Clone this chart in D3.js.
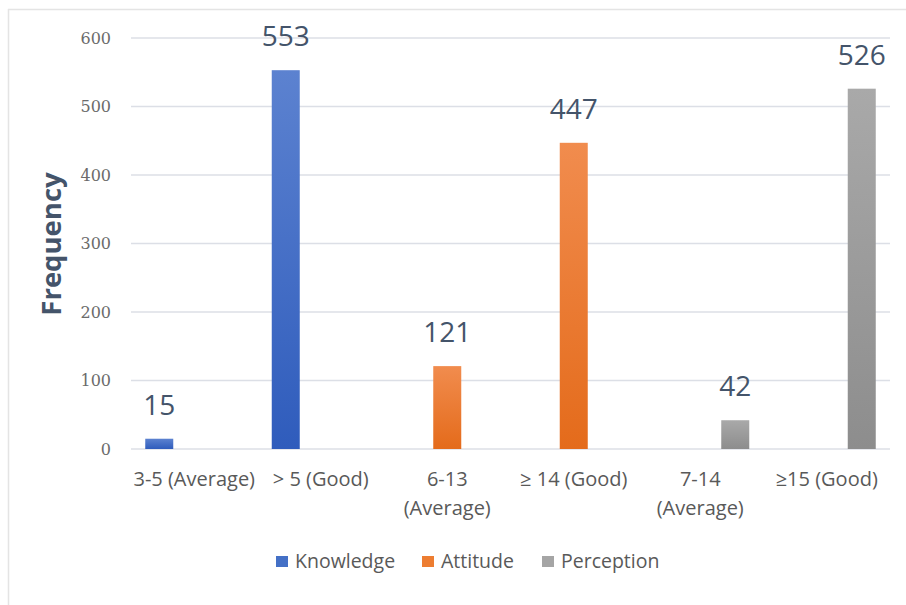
<!DOCTYPE html>
<html>
<head>
<meta charset="utf-8">
<script src="https://cdn.jsdelivr.net/npm/d3@7"></script>
<style>
  body { margin: 0; background: #fff; }
</style>
</head>
<body>
<div id="chart"></div>
<script>
const categories = ["3-5 (Average)", "> 5 (Good)", "6-13 (Average)", "≥ 14 (Good)", "7-14 (Average)", "≥15 (Good)"];
const categoryLines = [["3-5 (Average)"], ["> 5 (Good)"], ["6-13", "(Average)"], ["≥ 14 (Good)"], ["7-14", "(Average)"], ["≥15 (Good)"]];
const seriesNames = ["Knowledge", "Attitude", "Perception"];
const knowledge = [15, 553, null, null, null, null];
const attitude = [null, null, 121, 447, null, null];
const perception = [null, null, null, null, 42, 526];
const yTicks = [0, 100, 200, 300, 400, 500, 600];

const seriesValues = [knowledge, attitude, perception];
const colors = {
    Knowledge: ["#5c82d0", "#2f5cbc", "#4470c6"],
    Attitude: ["#f18c4e", "#e46b1b", "#ed7d31"],
    Perception: ["#a9a9a9", "#8d8d8d", "#a5a5a5"]
};

const W = 906, H = 605;
const plotLeft = 131, plotRight = 890, plotTop = 38, plotBottom = 449;

const svg = d3.select("#chart")
.append("svg")
.attr("width", W)
.attr("height", H);

// gradients
const defs = svg.append("defs");
seriesNames.forEach((s, i) => {
    const g = defs.append("linearGradient")
        .attr("id", "grad" + i)
        .attr("x1", 0).attr("y1", 0).attr("x2", 0).attr("y2", 1);
    g.append("stop").attr("offset", "0%").attr("stop-color", colors[s][0]);
    g.append("stop").attr("offset", "100%").attr("stop-color", colors[s][1]);
});

// frame (top and left only visible)
svg.append("line").attr("x1", 8).attr("x2", W).attr("y1", 9.5).attr("y2", 9.5)
    .attr("stroke", "#e4e4e4").attr("stroke-width", 1.5);
svg.append("line").attr("x1", 8.5).attr("x2", 8.5).attr("y1", 9).attr("y2", H)
    .attr("stroke", "#e4e4e4").attr("stroke-width", 1.5);

const yScale = d3.scaleLinear()
.domain([0, 600])
.range([plotBottom, plotTop]);

const x0 = d3.scaleBand()
.domain(categories)
.range([plotLeft, plotRight]);

const groupW = 98;
const x1 = d3.scaleBand()
.domain(seriesNames)
.range([0, groupW])
.paddingInner(0.2);

// gridlines
svg.selectAll(".grid")
    .data(yTicks)
    .join("line")
    .attr("class", "grid")
    .attr("x1", plotLeft)
    .attr("x2", plotRight)
    .attr("y1", d => yScale(d))
    .attr("y2", d => yScale(d))
    .attr("stroke", "#dcdfe6")
    .attr("stroke-width", 1.3);

// y axis labels
const yAxis = d3.axisLeft(yScale).tickValues(yTicks).tickSize(0).tickPadding(20);
const yg = svg.append("g").attr("transform", `translate(${plotLeft},0)`).call(yAxis);
yg.select(".domain").remove();
yg.selectAll("text")
    .attr("font-family", "'DejaVu Serif', 'Liberation Serif', serif")
    .attr("font-size", 16)
    .attr("fill", "#6b6b6b");

// y title
svg.append("text")
    .attr("transform", "translate(61,244) rotate(-90)")
    .attr("text-anchor", "middle")
    .attr("font-family", "'Open Sans', sans-serif")
    .attr("font-weight", "bold")
    .attr("font-size", 27.5)
    .attr("fill", "#44546a")
    .text("Frequency");

// bars
const bars = [];
categories.forEach((c, ci) => {
    seriesNames.forEach((s, si) => {
        const v = seriesValues[si][ci];
        if (v !== null) bars.push({ cat: c, series: s, si: si, value: v });
    });
});

const xBar = d => x0(d.cat) + (x0.bandwidth() - groupW) / 2 + x1(d.series);

svg.selectAll(".bar")
    .data(bars)
    .join("rect")
    .attr("class", "bar")
    .attr("x", d => xBar(d))
    .attr("width", x1.bandwidth())
    .attr("y", d => yScale(d.value))
    .attr("height", d => yScale(0) - yScale(d.value))
    .attr("fill", d => `url(#grad${d.si})`);

svg.selectAll(".val")
    .data(bars)
    .join("text")
    .attr("class", "val")
    .attr("x", d => xBar(d) + x1.bandwidth() / 2)
    .attr("y", d => yScale(d.value) - 24)
    .attr("text-anchor", "middle")
    .attr("font-family", "'Open Sans', sans-serif")
    .attr("font-size", 28)
    .attr("fill", "#44546a")
    .text(d => d.value);

// x labels
const xl = svg.selectAll(".xlab")
    .data(categories)
    .join("text")
    .attr("class", "xlab")
    .attr("x", d => x0(d) + x0.bandwidth() / 2)
    .attr("y", 486)
    .attr("text-anchor", "middle")
    .attr("font-family", "'Open Sans', sans-serif")
    .attr("font-size", 20)
    .attr("fill", "#595959");
xl.each(function(d, i) {
    const t = d3.select(this);
    categoryLines[i].forEach((ln, li) => {
        t.append("tspan")
            .attr("x", x0(d) + x0.bandwidth() / 2)
            .attr("dy", li === 0 ? 0 : 29)
            .text(ln);
    });
});

// legend
const legendX = [276, 422, 542];
const lg = svg.selectAll(".leg")
    .data(seriesNames)
    .join("g")
    .attr("class", "leg")
    .attr("transform", (d, i) => `translate(${legendX[i]},556)`);
lg.append("rect")
    .attr("width", 12)
    .attr("height", 11)
    .attr("fill", (d, i) => colors[d][2]);
lg.append("text")
    .attr("x", 19)
    .attr("y", 11.5)
    .attr("font-family", "'Open Sans', sans-serif")
    .attr("font-size", 19.5)
    .attr("fill", "#595959")
    .text(d => d);
</script>
</body>
</html>
